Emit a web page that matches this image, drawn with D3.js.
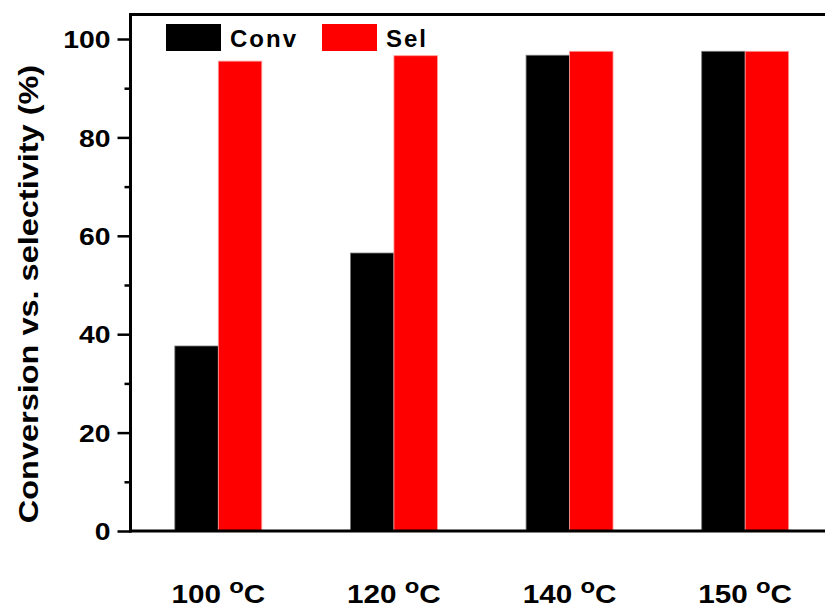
<!DOCTYPE html>
<html>
<head>
<meta charset="utf-8">
<script src="https://cdn.jsdelivr.net/npm/d3@7/dist/d3.min.js"></script>
<style>
  body { margin: 0; background: #fff; }
  text { font-family: "Liberation Sans", Arial, sans-serif; font-weight: bold; fill: #000; }
</style>
</head>
<body>
<div id="vis"></div>
<script>
// temperatures and the two measured series (%)
var temps = ["100", "120", "140", "150"];
var conv = [37.6, 56.5, 96.7, 97.5];
var sel = [95.5, 96.6, 97.5, 97.5];
var seriesNames = ["Conv", "Sel"];
var seriesColors = ["#000000", "#ff0000"];
var yTicks = [0, 20, 40, 60, 80, 100];
var yMinorTicks = [10, 30, 50, 70, 90];

var W = 825, H = 610;
var margin = { top: 14.5, left: 130.5 };
var plotRight = 833; // frame runs off the right edge in the original
var stretch = 1.18;  // text in the original is a bit wider than Arial

var svg = d3.select("#vis").append("svg")
    .attr("width", W)
    .attr("height", H);

var xScale = d3.scaleBand()
    .domain(temps)
    .range([margin.left, plotRight]);

var inner = d3.scaleBand()
    .domain(seriesNames)
    .range([0, xScale.bandwidth()])
    .paddingOuter(1.02);

var yScale = d3.scaleLinear()
    .domain([0, 100])
    .range([531, 39]);

// bars
var rows = temps.map(function (t, i) {
    return { temp: t, values: [conv[i], sel[i]] };
});

var groups = svg.selectAll("g.grp").data(rows).enter().append("g")
    .attr("class", "grp")
    .attr("transform", function (d) { return "translate(" + xScale(d.temp) + ",0)"; });

groups.selectAll("rect")
    .data(function (d) { return d.values.map(function (v, j) { return { name: seriesNames[j], v: v, c: seriesColors[j] }; }); })
    .enter().append("rect")
    .attr("x", function (d) { return inner(d.name); })
    .attr("width", inner.bandwidth())
    .attr("y", function (d) { return yScale(d.v); })
    .attr("height", function (d) { return yScale(0) - yScale(d.v); })
    .attr("fill", function (d) { return d.c; })
    .attr("stroke", function (d) { return d.name === "Conv" ? "#777" : "#ff9a9a"; })
    .attr("stroke-width", 0.8);

// y axis with major ticks and minor ticks
var yAxis = d3.axisLeft(yScale).tickValues(yTicks).tickSize(13).tickPadding(7);
var gy = svg.append("g")
    .attr("transform", "translate(" + margin.left + ",0)")
    .call(yAxis);
gy.select(".domain").remove();
gy.selectAll(".tick line").attr("stroke", "#000").attr("stroke-width", 2.5);
gy.selectAll(".tick text")
    .style("font-size", "24px")
    .attr("x", -20 / stretch)
    .attr("dy", "0.36em")
    .attr("transform", "scale(" + stretch + ",1)");

var gyMinor = svg.append("g")
    .attr("transform", "translate(" + margin.left + ",0)")
    .call(d3.axisLeft(yScale).tickValues(yMinorTicks).tickSize(6).tickFormat(""));
gyMinor.select(".domain").remove();
gyMinor.selectAll(".tick line").attr("stroke", "#000").attr("stroke-width", 2.5);

// frame lines (left, bottom, top)
svg.append("line")
    .attr("x1", margin.left).attr("x2", margin.left)
    .attr("y1", margin.top - 1.5).attr("y2", yScale(0) + 1.5)
    .attr("stroke", "#000").attr("stroke-width", 3);
svg.append("line")
    .attr("x1", margin.left - 1.5).attr("x2", W)
    .attr("y1", yScale(0)).attr("y2", yScale(0))
    .attr("stroke", "#000").attr("stroke-width", 3);
svg.append("line")
    .attr("x1", margin.left - 1.5).attr("x2", W)
    .attr("y1", margin.top).attr("y2", margin.top)
    .attr("stroke", "#000").attr("stroke-width", 3);

// x labels
var xl = svg.selectAll("text.xl").data(temps).enter().append("text")
    .attr("class", "xl")
    .attr("transform", function (d) {
        return "translate(" + (xScale(d) + xScale.bandwidth() / 2) + ",603) scale(1.14,1)";
    })
    .attr("text-anchor", "middle")
    .style("font-size", "26px");
xl.append("tspan").text(function (d) { return d + " "; });
xl.append("tspan").text("o").style("font-size", "21px").attr("dy", -10);
xl.append("tspan").text("C").attr("dy", 10);

// y title
svg.append("text")
    .attr("transform", "translate(38,294) rotate(-90) scale(1.16,1)")
    .attr("text-anchor", "middle")
    .style("font-size", "28px")
    .text("Conversion vs. selectivity (%)");

// legend
var legend = [
    { name: "Conv", color: seriesColors[0], x: 166 },
    { name: "Sel", color: seriesColors[1], x: 322 }
];
var lg = svg.selectAll("g.lg").data(legend).enter().append("g")
    .attr("class", "lg")
    .attr("transform", function (d) { return "translate(" + d.x + ",24)"; });
lg.append("rect")
    .attr("width", 55).attr("height", 27)
    .attr("fill", function (d) { return d.color; });
lg.append("text")
    .attr("x", 64).attr("y", 23)
    .style("font-size", "24px")
    .style("letter-spacing", "2px")
    .text(function (d) { return d.name; });
</script>
</body>
</html>
